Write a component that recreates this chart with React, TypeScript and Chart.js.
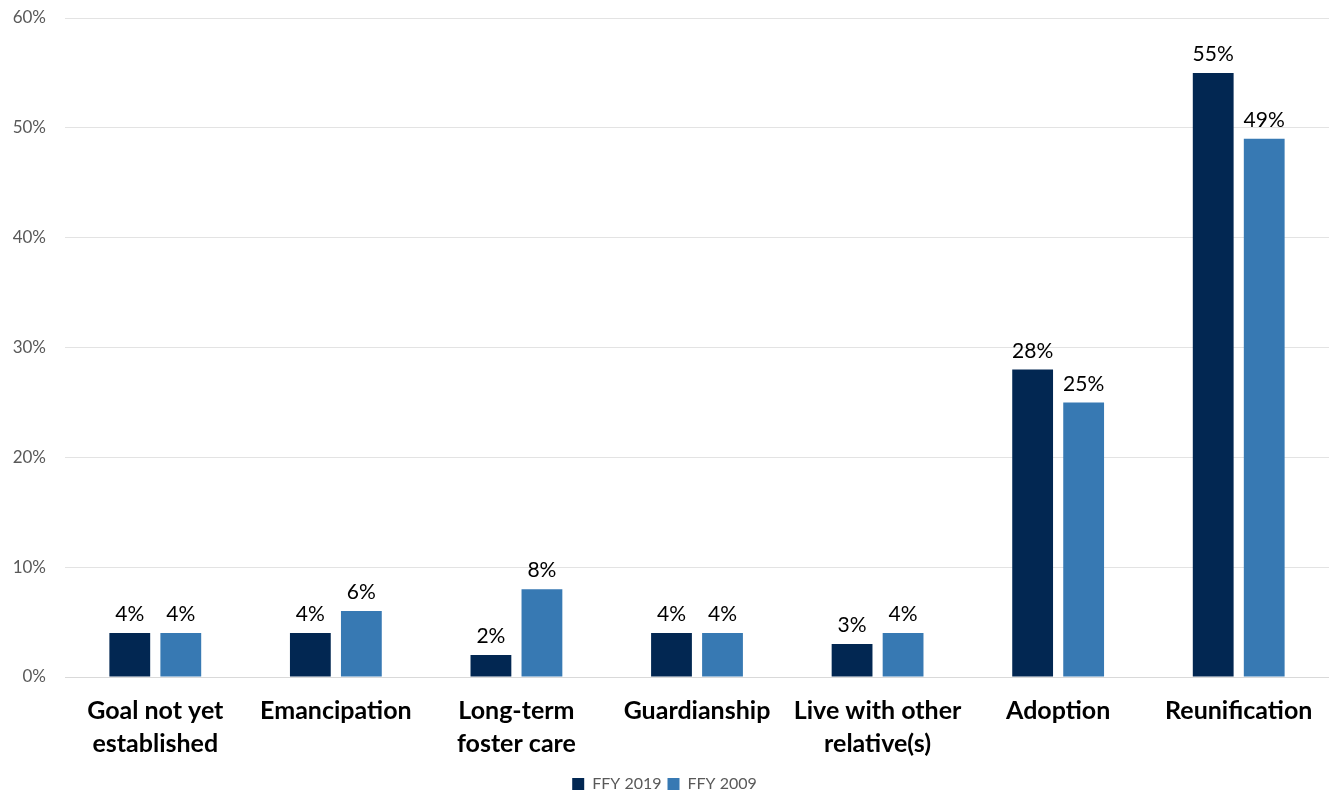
import React, { useEffect, useRef } from "react";
import { Chart, registerables } from "chart.js";

Chart.register(...registerables);

const categories: (string | string[])[] = [
  ["Goal not yet", "established"],
  "Emancipation",
  ["Long-term", "foster care"],
  "Guardianship",
  ["Live with other", "relative(s)"],
  "Adoption",
  "Reunification",
];
const ffy2019 = [4, 4, 2, 4, 3, 28, 55];
const ffy2009 = [4, 6, 8, 4, 4, 25, 49];
const yTicks = [0, 10, 20, 30, 40, 50, 60];

const FONT = "Lato, 'Noto Sans', sans-serif";

const valueLabels = {
  id: "valueLabels",
  afterDatasetsDraw(chart: any) {
    const ctx = chart.ctx;
    ctx.save();
    ctx.font = `21px ${FONT}`;
    ctx.fillStyle = "#000000";
    ctx.textAlign = "center";
    ctx.textBaseline = "bottom";
    chart.data.datasets.forEach((ds: any, di: number) => {
      const meta = chart.getDatasetMeta(di);
      meta.data.forEach((bar: any, i: number) => {
        ctx.fillText(`${ds.data[i]}%`, bar.x, bar.y - 8);
      });
    });
    ctx.restore();
  },
};

export default function App() {
  const ref = useRef<HTMLCanvasElement>(null);
  useEffect(() => {
    document.body.style.margin = "0";
    const chart = new Chart(ref.current!, {
      type: "bar",
      data: {
        labels: categories,
        datasets: [
          {
            label: "FFY 2019",
            data: ffy2019,
            backgroundColor: "#022752",
            barPercentage: 0.8,
            categoryPercentage: 0.565,
          },
          {
            label: "FFY 2009",
            data: ffy2009,
            backgroundColor: "#3779B3",
            barPercentage: 0.8,
            categoryPercentage: 0.565,
          },
        ],
      },
      options: {
        animation: false,
        responsive: false,
        maintainAspectRatio: false,
        layout: { padding: { top: 18, right: 0, left: 0, bottom: -9 } },
        plugins: {
          legend: {
            position: "bottom",
            labels: {
              boxWidth: 12,
              boxHeight: 12,
              padding: 6,
              color: "#595959",
              font: { family: FONT, size: 16 },
            },
          },
          tooltip: { enabled: false },
        },
        scales: {
          x: {
            grid: { display: false },
            border: { color: "#d9d9d9", width: 1 },
            ticks: {
              color: "#000000",
              font: { family: FONT, size: 25, weight: "bold", lineHeight: 1.3 },
              maxRotation: 0,
              minRotation: 0,
              autoSkip: false,
              padding: 10,
            },
          },
          y: {
            min: 0,
            max: 60,
            afterBuildTicks: (scale: any) => {
              scale.ticks = yTicks.map((v) => ({ value: v }));
            },
            afterFit: (scale: any) => {
              scale.width = 65;
              scale.paddingTop = 0;
              scale.paddingBottom = 0;
            },
            grid: { color: "#e3e3e3", drawTicks: false },
            border: { display: false },
            ticks: {
              color: "#595959",
              font: { family: FONT, size: 17 },
              padding: 19,
              callback: (v: any) => `${v}%`,
            },
          },
        },
      },
      plugins: [valueLabels],
    });
    return () => chart.destroy();
  }, []);
  return (
    <div style={{ width: 1329, height: 793 }}>
      <canvas ref={ref} width={1329} height={793} style={{ display: "block" }} />
    </div>
  );
}
